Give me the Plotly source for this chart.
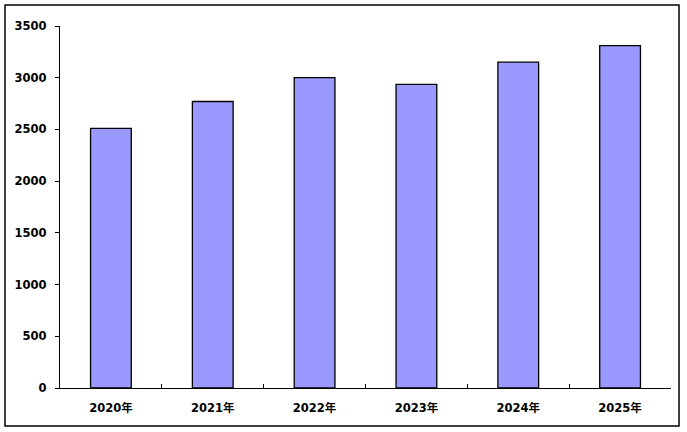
import plotly.graph_objects as go

# 年份与数值
years = ['2020年', '2021年', '2022年', '2023年', '2024年', '2025年']
values = [2510, 2770, 3000, 2935, 3150, 3310]
y_ticks = [0, 500, 1000, 1500, 2000, 2500, 3000, 3500]

fig = go.Figure(data=[go.Bar(
    x=years,
    y=values,
    marker=dict(color='#9999FF', line=dict(color='black', width=1.3)),
    width=0.4,
)])

tick_font = dict(family='DejaVu Sans, Noto Sans CJK SC', size=11.5, color='black', weight='bold')

fig.update_layout(
    width=687,
    height=432,
    margin=dict(l=60, r=16, t=26, b=44),
    plot_bgcolor='white',
    paper_bgcolor='white',
    showlegend=False,
)

fig.update_xaxes(
    showline=True, linecolor='black', linewidth=1.3,
    ticks='inside', ticklen=4, tickcolor='black', tickson='boundaries',
    showgrid=False, tickfont=tick_font, ticklabelstandoff=9,
)
fig.update_yaxes(
    range=[0, 3500], tickvals=y_ticks,
    showline=True, linecolor='black', linewidth=1.3,
    ticks='outside', ticklen=4, tickcolor='black',
    showgrid=False, zeroline=False,
    tickfont=tick_font, ticklabelstandoff=6,
)

# 外框
fig.add_shape(type='rect', xref='paper', yref='paper',
              x0=-0.09, x1=1.0131, y0=-0.105, y1=1.058,
              line=dict(color='black', width=1.5))

fig.write_html("out.html", config={'displayModeBar': False},
               post_script="document.body.style.margin='0';")
